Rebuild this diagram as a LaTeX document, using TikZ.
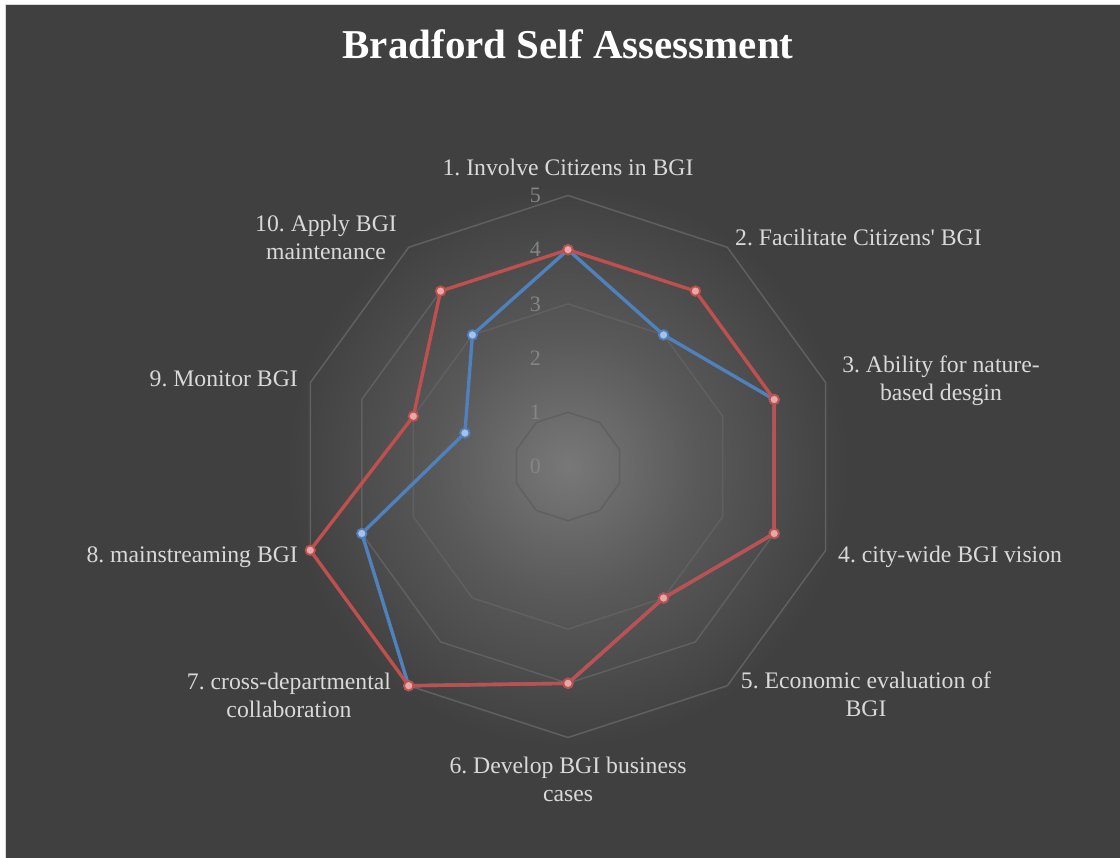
\documentclass[tikz,border=0pt]{standalone}
\usepackage{fontspec}
\setmainfont{Liberation Serif}
\usepackage{xcolor}
\usepackage{tikz}
\usetikzlibrary{positioning}

\definecolor{chartbg}{HTML}{404040}
\definecolor{glow}{HTML}{787878}
\definecolor{glowmid}{HTML}{595959}
\definecolor{gridgray}{HTML}{606060}
\definecolor{labelgray}{HTML}{D9D9D9}
\definecolor{valuegray}{HTML}{858585}
\definecolor{redline}{HTML}{C0504D}
\definecolor{redfill}{HTML}{E6A9A8}
\definecolor{blueline}{HTML}{4F81BD}
\definecolor{bluefill}{HTML}{A7C2E6}
\pgfdeclareradialshading{chartglow}{\pgfpointorigin}{color(0bp)=(glow); color(130bp)=(glowmid); color(280bp)=(chartbg); color(285bp)=(chartbg)}
\frenchspacing

\begin{document}
\begin{tikzpicture}[y=-1pt,x=1pt,
	grid/.style={draw=gridgray, line width=1.5pt, line join=round},
	axislabel/.style={text=labelgray, inner sep=0pt, align=center, font=\fontsize{23.7}{28}\selectfont},
	valuelabel/.style={text=valuegray, inner sep=0pt, anchor=east, font=\fontsize{22}{26}\selectfont},
	blueseries/.style={draw=blueline, line width=3.4pt, line join=round},
	redseries/.style={draw=redline, line width=3.4pt, line join=round},
	bluemark/.style={draw=blueline, fill=bluefill, line width=1.8pt},
	redmark/.style={draw=redline, fill=redfill, line width=1.8pt}]
	\newcommand\Ring[1]{(-90:#1) -- (-54:#1) -- (-18:#1) -- (18:#1) -- (54:#1) -- (90:#1) -- (126:#1) -- (162:#1) -- (198:#1) -- (234:#1) -- cycle}
	\newcommand\Dot{+(0,0) circle (4.7)}

	\useasboundingbox (0,0) rectangle (1120,858);
	\fill[white] (0,0) rectangle (1120,858);
	\draw[draw=black!15, fill=chartbg, line width=1pt] (5.5,4.5) rectangle (1121,859);
	\node[inner sep=0pt] (glowspot) at (568,466.5) {\pgfuseshading{chartglow}};

	\node[font=\fontsize{41}{48}\selectfont\bfseries, text=white, anchor=base] (title) at (568,59) {Bradford Self Assessment};

	\begin{scope}[shift={(568,466.5)}]
		\draw[grid] \Ring{54.2};
		\draw[grid] \Ring{108.4};
		\draw[grid] \Ring{162.6};
		\draw[grid] \Ring{216.8};
		\draw[grid] \Ring{271};

		\coordinate (b1) at (-90:216.8);
		\coordinate (b2) at (-54:162.6);
		\coordinate (b3) at (-18:216.8);
		\coordinate (b4) at (18:216.8);
		\coordinate (b5) at (54:162.6);
		\coordinate (b6) at (90:216.8);
		\coordinate (b7) at (126:271);
		\coordinate (b8) at (162:216.8);
		\coordinate (b9) at (198:108.4);
		\coordinate (b10) at (234:162.6);

		\coordinate (r1) at (-90:216.8);
		\coordinate (r2) at (-54:216.8);
		\coordinate (r3) at (-18:216.8);
		\coordinate (r4) at (18:216.8);
		\coordinate (r5) at (54:162.6);
		\coordinate (r6) at (90:216.8);
		\coordinate (r7) at (126:271);
		\coordinate (r8) at (162:271);
		\coordinate (r9) at (198:162.6);
		\coordinate (r10) at (234:216.8);
	\end{scope}

	\node[valuelabel] (v0) at (541,466.5) {0};
	\node[valuelabel] (v1) at (541,412.3) {1};
	\node[valuelabel] (v2) at (541,358.1) {2};
	\node[valuelabel] (v3) at (541,303.9) {3};
	\node[valuelabel] (v4) at (541,249.7) {4};
	\node[valuelabel] (v5) at (541,195.5) {5};

	\draw[blueseries] (b1) -- (b2) -- (b3) -- (b4) -- (b5) -- (b6) -- (b7) -- (b8) -- (b9) -- (b10) -- cycle;
	\draw[bluemark] (b1) \Dot (b2) \Dot (b3) \Dot (b4) \Dot (b5) \Dot (b6) \Dot (b7) \Dot (b8) \Dot (b9) \Dot (b10) \Dot;

	\draw[redseries] (r1) -- (r2) -- (r3) -- (r4) -- (r5) -- (r6) -- (r7) -- (r8) -- (r9) -- (r10) -- cycle;
	\draw[redmark] (r1) \Dot (r2) \Dot (r3) \Dot (r4) \Dot (r5) \Dot (r6) \Dot (r7) \Dot (r8) \Dot (r9) \Dot (r10) \Dot;

	\node[axislabel, anchor=base] (involve) at (568,176) {1. Involve Citizens in BGI};
	\node[axislabel, anchor=base west] (facilitate) at (735,246) {2. Facilitate Citizens\textquotesingle{} BGI};
	\node[axislabel, anchor=base] (ability) at (941,401) {3. Ability for nature-\\based desgin};
	\node[axislabel, anchor=base west] (vision) at (838,562) {4. city-wide BGI vision};
	\node[axislabel, anchor=base] (economic) at (866,716) {5. Economic evaluation of\\BGI};
	\node[axislabel, anchor=base] (business) at (568,801) {6. Develop BGI business\\cases};
	\node[axislabel, anchor=base] (crossdept) at (289,717) {7. cross-departmental\\collaboration};
	\node[axislabel, anchor=base east] (mainstream) at (298,562) {8. mainstreaming BGI};
	\node[axislabel, anchor=base east] (monitor) at (298,387) {9. Monitor BGI};
	\node[axislabel, anchor=base] (maintain) at (326,260) {10. Apply BGI\\maintenance};
\end{tikzpicture}
\end{document}
